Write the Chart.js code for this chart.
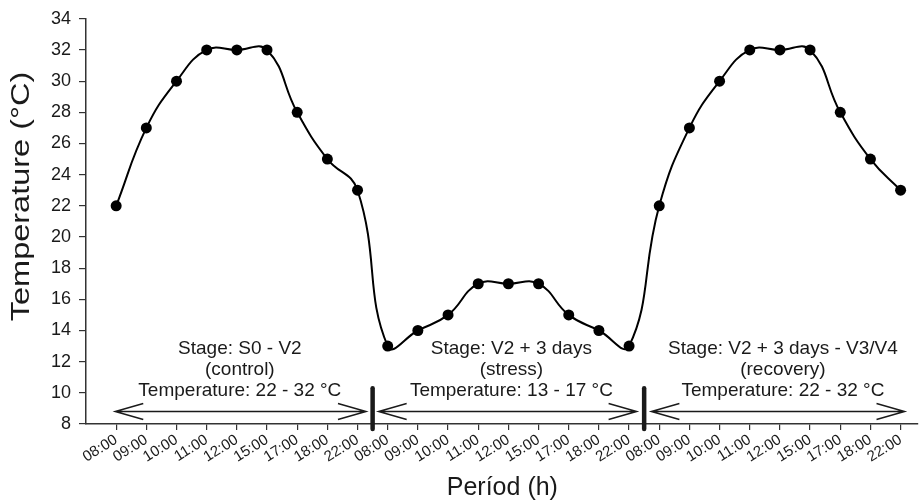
<!DOCTYPE html>
<html>
<head>
<meta charset="utf-8">
<script src="https://cdn.jsdelivr.net/npm/chart.js@4.4.1/dist/chart.umd.min.js"></script>
<style>
  html, body { margin: 0; padding: 0; background: #fff; }
  #wrap { width: 923px; height: 502px; position: relative; }
</style>
</head>
<body>
<div id="wrap"><canvas id="chartTemp"></canvas></div>
<script>
/* Données */
const hours  = ['08:00', '09:00', '10:00', '11:00', '12:00', '15:00', '17:00', '18:00', '22:00'];
const stage1 = [22, 27, 30, 32, 32, 32, 28, 25, 23];   // S0 - V2 (control)
const stage2 = [13, 14, 15, 17, 17, 17, 15, 14, 13];   // V2 + 3 days (stress)
const stage3 = [22, 27, 30, 32, 32, 32, 28, 25, 23];   // V2 + 3 days - V3/V4 (recovery)
const yTicks = [8, 10, 12, 14, 16, 18, 20, 22, 24, 26, 28, 30, 32, 34];

const stageText = [
  ['Stage: S0 - V2', '(control)', 'Temperature: 22 - 32 °C'],
  ['Stage: V2 + 3 days', '(stress)', 'Temperature: 13 - 17 °C'],
  ['Stage: V2 + 3 days - V3/V4', '(recovery)', 'Temperature: 22 - 32 °C']
];
const yTitle = 'Temperature (°C)';
const xTitle = 'Períod (h)';

const xLabels = hours.concat(hours, hours);
const temps   = stage1.concat(stage2, stage3);
const points  = temps.map((t, i) => ({ x: i, y: t }));

const FONT = "'Liberation Sans', Arial, sans-serif";
const INK  = '#1a1a1a';

/* Flèches, séparateurs, textes des stades et titres d'axes */
const stagePlugin = {
  id: 'stages',
  afterDraw(chart) {
    const c = chart.ctx, xs = chart.scales.x, ys = chart.scales.y;
    const n = hours.length;
    const seps = [n - 0.5, 2 * n - 0.5];
    const ay = ys.getPixelForValue(8.8);

    function arrow(x0, x1) {
      c.beginPath();
      c.moveTo(x0, ay); c.lineTo(x1, ay);
      c.moveTo(x0 + 28, ay - 8); c.lineTo(x0, ay); c.lineTo(x0 + 28, ay + 8);
      c.moveTo(x1 - 28, ay - 8); c.lineTo(x1, ay); c.lineTo(x1 - 28, ay + 8);
      c.stroke();
    }

    c.save();
    c.strokeStyle = INK;
    c.lineWidth = 1.5;
    arrow(xs.getPixelForValue(-0.03), xs.getPixelForValue(seps[0] - 0.22));
    arrow(xs.getPixelForValue(seps[0] + 0.2), xs.getPixelForValue(seps[1] - 0.25));
    arrow(xs.getPixelForValue(seps[1] + 0.24), xs.getPixelForValue(3 * n - 1 + 0.13));

    c.lineWidth = 4.5;
    c.lineCap = 'round';
    seps.forEach(function (s) {
      const px = xs.getPixelForValue(s);
      c.beginPath();
      c.moveTo(px, ys.getPixelForValue(10.3));
      c.lineTo(px, ys.bottom + 5);
      c.stroke();
    });

    c.fillStyle = INK;
    c.font = '19px ' + FONT;
    c.textAlign = 'center';
    c.textBaseline = 'middle';
    const lineY = [12.85, 11.45, 10.15];
    stageText.forEach(function (lines, k) {
      const cx = xs.getPixelForValue(k * n + (n - 1) / 2) + 3;
      lines.forEach(function (txt, j) {
        c.fillText(txt, cx, ys.getPixelForValue(lineY[j]));
      });
    });

    /* titre X */
    c.font = '25px ' + FONT;
    c.fillText(xTitle, xs.getPixelForValue(12.8), 488);

    /* titre Y : un peu étiré comme sur la figure */
    c.translate(22, ys.getPixelForValue(22.6));
    c.rotate(-Math.PI / 2);
    c.scale(1.12, 0.88);
    c.font = '29px ' + FONT;
    c.fillText(yTitle, 0, 0);
    c.restore();
  }
};

new Chart(document.getElementById('chartTemp'), {
  type: 'line',
  data: {
    datasets: [{
      data: points,
      borderColor: '#000',
      borderWidth: 2,
      backgroundColor: '#000',
      pointRadius: 5.5,
      pointBackgroundColor: '#000',
      pointBorderWidth: 0,
      tension: 0.45,
      fill: false
    }]
  },
  options: {
    responsive: true,
    maintainAspectRatio: false,
    animation: false,
    layout: { padding: { top: 18, right: 0, left: 4, bottom: 0 } },
    plugins: {
      legend: { display: false },
      tooltip: { enabled: false }
    },
    scales: {
      x: {
        type: 'linear',
        min: -1,
        max: 26.56,
        afterBuildTicks: function (scale) {
          scale.ticks = xLabels.map((l, i) => ({ value: i }));
        },
        afterFit: function (scale) { scale.height = 78; },
        border: { display: true, color: '#333', width: 1.5 },
        grid: { display: true, drawOnChartArea: false, drawTicks: true, tickLength: 6, color: '#333', lineWidth: 1.2 },
        ticks: {
          autoSkip: false,
          maxRotation: 32,
          minRotation: 32,
          padding: 1,
          color: INK,
          font: { family: FONT, size: 15 },
          callback: function (v) { return xLabels[v] !== undefined ? xLabels[v] : ''; }
        },
        title: { display: false }
      },
      y: {
        min: 8,
        max: 34,
        afterBuildTicks: function (scale) {
          scale.ticks = yTicks.map(v => ({ value: v }));
        },
        afterFit: function (scale) { scale.width = 82; },
        border: { display: true, color: '#333', width: 1.5 },
        grid: { display: true, drawOnChartArea: false, drawTicks: true, tickLength: 7, color: '#333', lineWidth: 1.2 },
        ticks: {
          color: INK,
          padding: 8,
          font: { family: FONT, size: 18 }
        },
        title: { display: false }
      }
    }
  },
  plugins: [stagePlugin]
});
</script>
</body>
</html>
